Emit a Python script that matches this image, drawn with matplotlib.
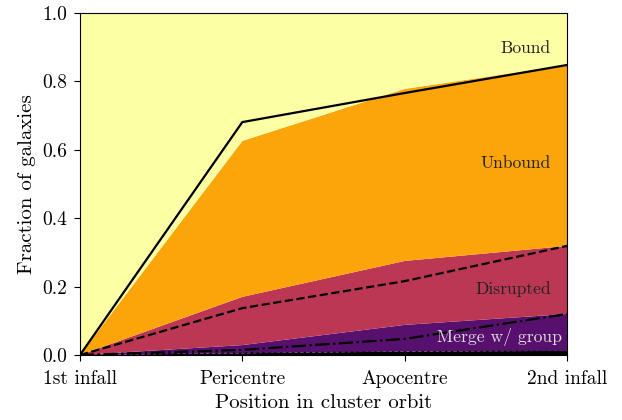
import matplotlib
matplotlib.use("Agg")
import matplotlib.pyplot as plt
import numpy as np

plt.rcParams['font.family'] = 'cmr10'
plt.rcParams['mathtext.fontset'] = 'cm'
plt.rcParams['axes.formatter.use_mathtext'] = True

positions = ["1st infall", "Pericentre", "Apocentre", "2nd infall"]
# stacked layer thicknesses (bottom to top)
other = [0.0, 0.005, 0.010, 0.012]
merge = [0.0, 0.024, 0.078, 0.108]
disrupted = [0.0, 0.141, 0.187, 0.199]
unbound = [0.0, 0.456, 0.503, 0.529]
bound = [1.0, 0.374, 0.222, 0.152]

# overlay lines
line_solid = [0.0, 0.681, 0.766, 0.848]
line_dashed = [0.0, 0.137, 0.216, 0.319]
line_dashdot = [0.0, 0.015, 0.047, 0.120]
line_dotted = [0.0, 0.004, 0.008, 0.010]

cmap = plt.get_cmap('inferno')
colors = [cmap(0.0), cmap(0.25), cmap(0.5), cmap(0.8), cmap(1.0)]

fig = plt.figure(figsize=(6.22, 4.2), dpi=100)
ax = fig.add_axes([80/622, 65/420, 487/622, 342/420])
x = np.arange(len(positions))
ax.stackplot(x, other, merge, disrupted, unbound, bound, colors=colors, linewidth=0)
ax.plot(x, line_solid, color='k', lw=1.6, ls='-')
ax.plot(x, line_dashed, color='k', lw=1.6, ls='--')
ax.plot(x, line_dashdot, color='k', lw=1.6, ls='-.')
ax.plot(x, line_dotted, color='k', lw=1.6, ls=':')

ax.set_xlim(0, 3)
ax.set_ylim(0, 1)
ax.set_xticks(x)
ax.set_xticklabels(positions)
ax.set_yticks([0, 0.2, 0.4, 0.6, 0.8, 1.0])
ax.set_yticklabels(["0.0", "0.2", "0.4", "0.6", "0.8", "1.0"])
ax.tick_params(labelsize=14, direction='out', length=4)
ax.tick_params(axis='x', pad=7)
ax.tick_params(axis='y', pad=5)
ax.set_xlabel("Position in cluster orbit", fontsize=15, labelpad=4)
ax.set_ylabel("Fraction of galaxies", fontsize=15, labelpad=5)

ax.text(2.9, 0.898, "Bound", ha='right', va='center', fontsize=12.6, color='#222222')
ax.text(2.9, 0.559, "Unbound", ha='right', va='center', fontsize=12.6, color='#222222')
ax.text(2.9, 0.194, "Disrupted", ha='right', va='center', fontsize=12.6, color='#222222')
ax.text(2.97, 0.053, "Merge w/ group", ha='right', va='center', fontsize=12.7, color='#dddddd')

fig.savefig("out.png", dpi=100)
